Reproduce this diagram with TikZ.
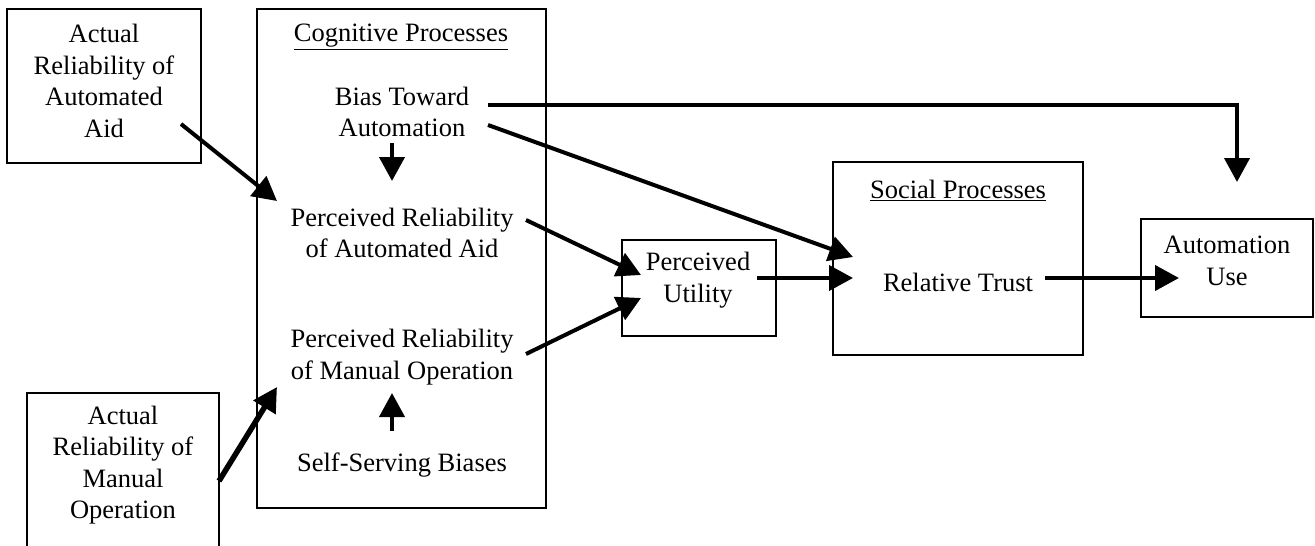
\documentclass[tikz,border=0pt]{standalone}
\usepackage{fontspec}
\setmainfont{Liberation Serif}
\usetikzlibrary{arrows.meta}
\begin{document}
\begin{tikzpicture}[x=1pt,y=-1pt,
  box/.style={draw, line width=1.6pt, inner sep=0pt, fill=white},
  lbl/.style={align=center, font=\fontsize{26.5}{31.5}\selectfont, inner sep=0pt},
  arr/.style={line width=4pt, -{Triangle[length=24pt,width=25pt]}},
  ]
\useasboundingbox (0,0) rectangle (1315,546);
\clip (0,0) rectangle (1315,546);
% boxes
\node[box, minimum width=194pt, minimum height=154pt] (boxA) at (104,86) {};
\node[box, minimum width=192pt, minimum height=187pt] (boxB) at (123,486.5) {};
\node[box, minimum width=289pt, minimum height=499pt] (cog) at (401.5,258.5) {};
\node[box, minimum width=154pt, minimum height=96pt] (pu) at (699,288) {};
\node[box, minimum width=250pt, minimum height=193pt] (soc) at (958,258.5) {};
\node[box, minimum width=172pt, minimum height=98pt] (auto) at (1227,268) {};
% labels
\node[lbl] (tA) at (104,81) {Actual\\Reliability of\\Automated\\Aid};
\node[lbl] (tB) at (123,465) {Actual\\Reliability of\\Manual\\Operation};
\node[lbl] (tcog) at (401,37) {\underline{Cognitive Processes}};
\node[lbl] (bias) at (402,112) {Bias Toward\\Automation};
\node[lbl] (pra) at (402,233) {Perceived Reliability\\of Automated Aid};
\node[lbl] (prm) at (402,357) {Perceived Reliability\\of Manual Operation};
\node[lbl] (ssb) at (402,465) {Self-Serving Biases};
\node[lbl] (tpu) at (698,280) {Perceived\\Utility};
\node[lbl] (tsoc) at (958,190) {\underline{Social Processes}};
\node[lbl] (rt) at (958,282) {Relative Trust};
\node[lbl] (tauto) at (1227,261) {Automation\\Use};
% connector end points
\coordinate (a1) at (181,124);  \coordinate (a2) at (277,201);
\coordinate (b1) at (219,481);  \coordinate (b2) at (277,387);
\coordinate (d1) at (392,143);  \coordinate (d2) at (392,181);
\coordinate (u1) at (392,431);  \coordinate (u2) at (392,393);
\coordinate (h1) at (488,105);  \coordinate (hc) at (1237,105); \coordinate (h2) at (1237,182);
\coordinate (g1) at (488,125);  \coordinate (g2) at (853,257);
\coordinate (p1) at (526,220);  \coordinate (p2) at (641,275);
\coordinate (m1) at (526,354);  \coordinate (m2) at (641,298);
\coordinate (q1) at (757,278);  \coordinate (q2) at (853,278);
\coordinate (r1) at (1045,278); \coordinate (r2) at (1179,278);
% connectors
\draw[arr] (a1) -- (a2);
\draw[arr, line width=5.5pt] (b1) -- (b2);
\draw[arr] (d1) -- (d2);
\draw[arr] (u1) -- (u2);
\draw[arr] (h1) -- (hc) -- (h2);
\draw[arr] (g1) -- (g2);
\draw[arr] (p1) -- (p2);
\draw[arr] (m1) -- (m2);
\draw[arr] (q1) -- (q2);
\draw[arr] (r1) -- (r2);
\end{tikzpicture}
\end{document}
